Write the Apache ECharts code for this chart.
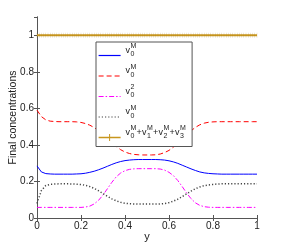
<!DOCTYPE html>
<html><head><meta charset="utf-8">
<script src="https://cdn.jsdelivr.net/npm/echarts@6/dist/echarts.min.js"></script>
<style>html,body{margin:0;padding:0;background:#fff}#c{width:284px;height:245px}</style>
</head><body><div id="c"></div>
<script>
// x positions (0..1 step 0.02)
const xs = [0,0.02,0.04,0.06,0.08,0.10,0.12,0.14,0.16,0.18,0.20,0.22,0.24,0.26,0.28,0.30,0.32,0.34,0.36,0.38,0.40,0.42,0.44,0.46,0.48,0.50,0.52,0.54,0.56,0.58,0.60,0.62,0.64,0.66,0.68,0.70,0.72,0.74,0.76,0.78,0.80,0.82,0.84,0.86,0.88,0.90,0.92,0.94,0.96,0.98,1.00];
const blueV = [0.285,0.252,0.243,0.241,0.240,0.240,0.240,0.240,0.240,0.241,0.242,0.245,0.250,0.256,0.264,0.273,0.283,0.293,0.302,0.309,0.314,0.317,0.319,0.320,0.320,0.320,0.320,0.320,0.319,0.317,0.313,0.307,0.299,0.289,0.279,0.269,0.260,0.252,0.247,0.244,0.242,0.241,0.240,0.240,0.240,0.240,0.240,0.240,0.240,0.240,0.240];
const redV = [0.590,0.555,0.537,0.530,0.528,0.527,0.527,0.527,0.527,0.526,0.523,0.517,0.508,0.495,0.478,0.458,0.436,0.413,0.392,0.374,0.361,0.353,0.348,0.346,0.345,0.345,0.345,0.346,0.350,0.358,0.370,0.388,0.410,0.432,0.455,0.477,0.496,0.510,0.519,0.524,0.526,0.527,0.527,0.527,0.527,0.527,0.527,0.527,0.527,0.527,0.527];
const magV = [0.058,0.058,0.058,0.058,0.058,0.058,0.058,0.058,0.058,0.058,0.058,0.060,0.065,0.077,0.097,0.126,0.160,0.195,0.225,0.246,0.259,0.266,0.269,0.270,0.270,0.270,0.270,0.270,0.268,0.262,0.250,0.232,0.205,0.172,0.137,0.106,0.083,0.069,0.062,0.059,0.058,0.058,0.058,0.058,0.058,0.058,0.058,0.058,0.058,0.058,0.058];
const dotV = [0.080,0.150,0.178,0.184,0.186,0.187,0.187,0.187,0.186,0.185,0.183,0.179,0.172,0.162,0.149,0.134,0.119,0.105,0.094,0.086,0.081,0.078,0.077,0.076,0.076,0.076,0.076,0.076,0.077,0.079,0.084,0.092,0.103,0.117,0.132,0.147,0.160,0.170,0.177,0.181,0.184,0.186,0.187,0.187,0.187,0.187,0.187,0.187,0.187,0.187,0.187];
// sum line sampled every 0.01
const sumX = [];
const sumV = [];
for (let i = 0; i <= 100; i++) { sumX.push(i / 100); sumV.push(1); }
const xTicks = ['0','0.2','0.4','0.6','0.8','1'];
const seriesNames = ['v0M_a','v0M_b','v02','v0M_c','sum'];

function pairs(x, y){ return x.map((v,i)=>[v,y[i]]); }

const chart = echarts.init(document.getElementById('c'), null, {renderer:'canvas'});
const font = 'Liberation Sans, Arial, sans-serif';
const ls = 4;
const rich = {
  w:{width:5,lineHeight:ls,fontSize:9,fontFamily:font},
  p:{width:5.5,lineHeight:ls,fontSize:9,fontFamily:font},
  s:{width:6,lineHeight:ls,fontSize:7,fontFamily:font,color:'#222'},
  v:{width:5,lineHeight:ls,fontSize:9,fontFamily:font,color:'#222'},
  sp:{width:6,lineHeight:ls,fontSize:7,fontFamily:font},
  plus:{width:5.5,lineHeight:ls,fontSize:9,fontFamily:font,color:'#222'},
  e:{lineHeight:10,fontSize:6}
};
function lab(parts){ // parts: array of [sup, sub]
  let l1='',l2='',l3='';
  parts.forEach((pt,i)=>{
    if(i>0){ l1+='{p| }'; l2+='{plus|+}'; l3+='{p| }'; }
    l1+='{w| }{s|'+pt[0]+'}';
    l2+='{v|v}{sp| }';
    l3+='{w| }{s|'+pt[1]+'}';
  });
  return l1+'\n'+l2+'\n'+l3+'\n{e| }';
}
const labels = {
  'v0M_a': lab([['M','0']]),
  'v0M_b': lab([['M','0']]),
  'v02': lab([['2','0']]),
  'v0M_c': lab([['M','0']]),
  'sum': lab([['M','0'],['M','1'],['M','2'],['M','3']])
};
const axisCol = '#555';
const gold = '#c8961e';
const blue = '#0000ff', red = '#ff0000', mag = '#ff00ff', dotC = '#444';
const dashRed = [5,3], dashMag = [5,2,1.5,2], dashDot = [1.2,2];
const barSym = 'path://M0 0H1V6H0Z';
const noSym = {opacity:0};
chart.setOption({
  animation:false,
  backgroundColor:'#fff',
  grid:{left:37,right:27,top:17,bottom:27,outerBoundsMode:'none'},
  legend:{
    data:[
      {name:'v0M_a',itemStyle:noSym},
      {name:'v0M_b',itemStyle:noSym},
      {name:'v02',itemStyle:noSym},
      {name:'v0M_c',itemStyle:noSym},
      {name:'sum',icon:'path://M0 4.25H22V5.75H0Z M10.5 1.5H11.5V8.5H10.5Z',itemStyle:{color:gold,opacity:1}}
    ],
    lineStyle:{width:1.2},
    orient:'vertical', left:96, top:42,
    padding:[0,6,0,2], itemGap:-2, itemWidth:22, itemHeight:10,
    backgroundColor:'#fff', borderColor:'#555', borderWidth:1, borderRadius:0,
    selectedMode:false,
    formatter:n=>labels[n],
    textStyle:{rich:rich, color:'#222', fontFamily:font}
  },
  xAxis:[
    {type:'value',min:0,max:1,interval:0.2,position:'bottom',
     name:'y',nameLocation:'middle',nameGap:13,nameMoveOverlap:false,nameTextStyle:{fontSize:11,color:'#222',fontFamily:font},
     axisLine:{lineStyle:{color:axisCol}},axisTick:{inside:true,length:3,lineStyle:{color:axisCol}},
     axisLabel:{fontSize:10,color:'#222',fontFamily:font,margin:3,formatter:v=>xTicks[Math.round(v/0.2)]},
     splitLine:{show:false}},
    {type:'value',min:0,max:1,interval:0.2,position:'top',
     axisLine:{lineStyle:{color:axisCol}},axisTick:{inside:true,length:3,lineStyle:{color:axisCol}},
     axisLabel:{show:false},splitLine:{show:false}}
  ],
  yAxis:[
    {type:'value',min:0,max:1.1,interval:0.2,position:'left',
     name:'Final concentrations',nameLocation:'middle',nameGap:18,nameMoveOverlap:false,nameTextStyle:{fontSize:10.5,color:'#222',fontFamily:font},
     axisLine:{show:true,lineStyle:{color:axisCol}},axisTick:{show:true,inside:true,length:3,lineStyle:{color:axisCol}},
     axisLabel:{fontSize:10,color:'#222',fontFamily:font,margin:3,showMaxLabel:false,
       formatter:v=>{const k=Math.round(v/0.2); return Math.abs(v-k*0.2)<1e-6 ? xTicks[k] : '';}},
     splitLine:{show:false}},
    {type:'value',min:0,max:1.1,interval:0.2,position:'right',
     axisLine:{show:true,lineStyle:{color:axisCol}},axisTick:{show:true,inside:true,length:3,lineStyle:{color:axisCol}},
     axisLabel:{show:false},splitLine:{show:false}}
  ],
  series:[
    {name:'v0M_a',type:'line',data:pairs(xs,blueV),showSymbol:false,symbol:'none',
     lineStyle:{color:blue,width:1},itemStyle:{color:blue}},
    {name:'v0M_b',type:'line',data:pairs(xs,redV),showSymbol:false,symbol:'none',
     lineStyle:{color:red,width:1,type:dashRed},itemStyle:{color:red}},
    {name:'v02',type:'line',data:pairs(xs,magV),showSymbol:false,symbol:'none',
     lineStyle:{color:mag,width:1,type:dashMag},itemStyle:{color:mag}},
    {name:'v0M_c',type:'line',data:pairs(xs,dotV),showSymbol:false,symbol:'none',
     lineStyle:{color:dotC,width:1.5,type:dashDot},itemStyle:{color:dotC}},
    {name:'sum',type:'line',data:pairs(sumX,sumV),showSymbol:true,symbol:barSym,symbolSize:[1,5],symbolKeepAspect:true,
     lineStyle:{color:gold,width:2},itemStyle:{color:'#a87a12'},z:5}
  ]
});
</script></body></html>
